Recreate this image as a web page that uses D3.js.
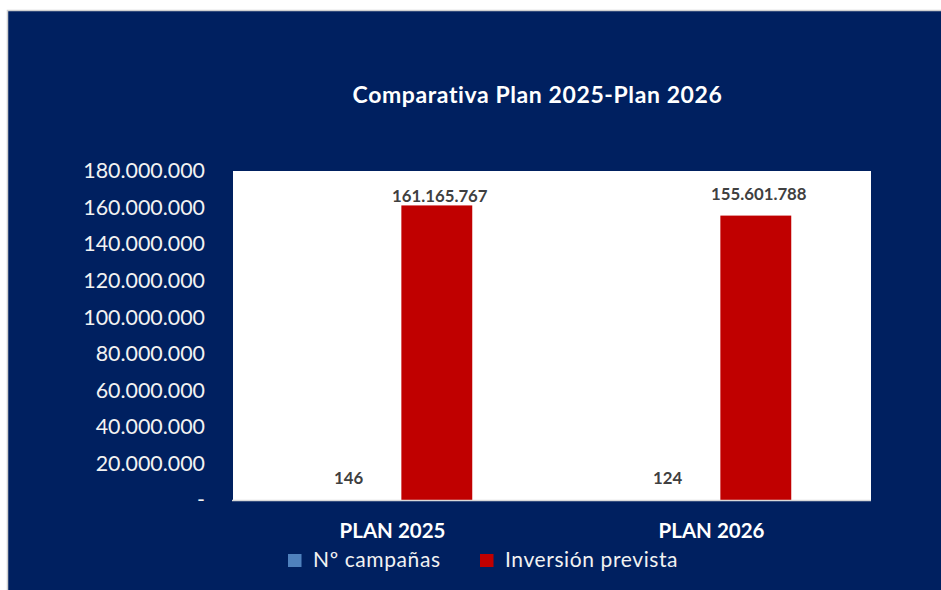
<!DOCTYPE html>
<html>
<head>
<meta charset="utf-8">
<script src="https://cdn.jsdelivr.net/npm/d3@7"></script>
<style>
  html, body { margin: 0; padding: 0; background: #ffffff; }
  svg { display: block; }
  text { font-family: Lato, "Open Sans", sans-serif; }
</style>
</head>
<body>
<svg id="chart" width="941" height="590"></svg>
<script>
// Plan comparison data
const categories = ["PLAN 2025", "PLAN 2026"];
const seriesNames = ["Nº campañas", "Inversión prevista"];
const campanas = [146, 124];
const inversion = [161165767, 155601788];
const yTicks = [0, 20000000, 40000000, 60000000, 80000000, 100000000, 120000000, 140000000, 160000000, 180000000];
const titleText = "Comparativa Plan 2025-Plan 2026";

const seriesValues = [campanas, inversion];
const seriesColors = ["#4F81BD", "#C00000"];
// vertical lift of each value label above its bar top [series][category]
const labelLift = [[16, 16], [3.5, 15.5]];

const W = 941, H = 590;
const plot = { left: 233, right: 871, top: 171, bottom: 500 };

const es = d3.formatLocale({ decimal: ",", thousands: ".", grouping: [3], currency: ["", " €"] });
const fmt = es.format(",d");

const svg = d3.select("#chart");

// navy chart area with a light frame on the page
svg.append("rect")
  .attr("x", 7.5).attr("y", 10.5)
  .attr("width", W).attr("height", H)
  .attr("fill", "#002060")
  .attr("stroke", "#D0D0D0").attr("stroke-width", 1.5);

// white plot area
svg.append("rect")
  .attr("x", plot.left).attr("y", plot.top)
  .attr("width", plot.right - plot.left).attr("height", plot.bottom - plot.top)
  .attr("fill", "#ffffff");

const y = d3.scaleLinear().domain([0, 180000000]).range([plot.bottom, plot.top]);
const x0 = d3.scaleBand().domain(categories).range([plot.left, plot.right])
  .paddingInner(0.5).paddingOuter(0.25);
const x1 = d3.scaleBand().domain(seriesNames).range([0, x0.bandwidth()])
  .paddingInner(0.2).paddingOuter(0);

// bars
const bars = [];
seriesNames.forEach((s, si) => {
  categories.forEach((c, ci) => {
    bars.push({ s, si, c, ci, v: seriesValues[si][ci] });
  });
});

svg.append("g").selectAll("rect").data(bars).join("rect")
  .attr("x", d => x0(d.c) + x1(d.s))
  .attr("y", d => y(d.v))
  .attr("width", x1.bandwidth())
  .attr("height", d => y(0) - y(d.v))
  .attr("fill", d => seriesColors[d.si]);

// category axis line
svg.append("line")
  .attr("x1", plot.left - 1).attr("x2", plot.right)
  .attr("y1", plot.bottom + 0.5).attr("y2", plot.bottom + 0.5)
  .attr("stroke", "#D9D9D9").attr("stroke-width", 1.5);

// y axis labels
const yAxis = d3.axisLeft(y).tickValues(yTicks).tickSize(0).tickPadding(0)
  .tickFormat(d => d === 0 ? "-" : fmt(d));
const gy = svg.append("g").attr("transform", `translate(${plot.left - 28},0)`).call(yAxis);
gy.select(".domain").remove();
gy.selectAll("text")
  .attr("fill", "#F2F2F2")
  .style("font-family", "Lato, sans-serif")
  .style("font-size", "21.4px");

// x axis labels
const xAxis = d3.axisBottom(x0).tickSize(0).tickPadding(0);
const gx = svg.append("g").attr("transform", `translate(0,${plot.bottom})`).call(xAxis);
gx.select(".domain").remove();
gx.selectAll("text")
  .attr("dy", null)
  .attr("y", 38)
  .attr("fill", "#ffffff")
  .style("font-family", "Lato, sans-serif")
  .style("font-weight", "bold")
  .style("font-size", "20.5px");

// value labels
svg.append("g").selectAll("text").data(bars).join("text")
  .attr("x", d => x0(d.c) + x1(d.s) + x1.bandwidth() / 2 + (d.si === 1 ? 3 : 0.5))
  .attr("y", d => y(d.v) - labelLift[d.si][d.ci])
  .attr("text-anchor", "middle")
  .attr("fill", "#404040")
  .style("font-weight", "bold")
  .style("font-size", "16.8px")
  .text(d => fmt(d.v));

// title
svg.append("text")
  .attr("x", 537.5).attr("y", 103)
  .attr("text-anchor", "middle")
  .attr("fill", "#ffffff")
  .style("font-weight", "bold")
  .style("font-size", "23px")
  .style("letter-spacing", "0.6px")
  .text(titleText);

// legend
const legendItems = [
  { name: seriesNames[0], color: seriesColors[0], x: 288 },
  { name: seriesNames[1], color: seriesColors[1], x: 480 }
];
const lg = svg.append("g").selectAll("g").data(legendItems).join("g")
  .attr("transform", d => `translate(${d.x},554)`);
lg.append("rect").attr("width", 13.5).attr("height", 13).attr("fill", d => d.color);
lg.append("text")
  .attr("x", 25).attr("y", 12.5)
  .attr("fill", "#F2F2F2")
  .style("font-size", "21px")
  .style("letter-spacing", "0.6px")
  .text(d => d.name);
</script>
</body>
</html>
